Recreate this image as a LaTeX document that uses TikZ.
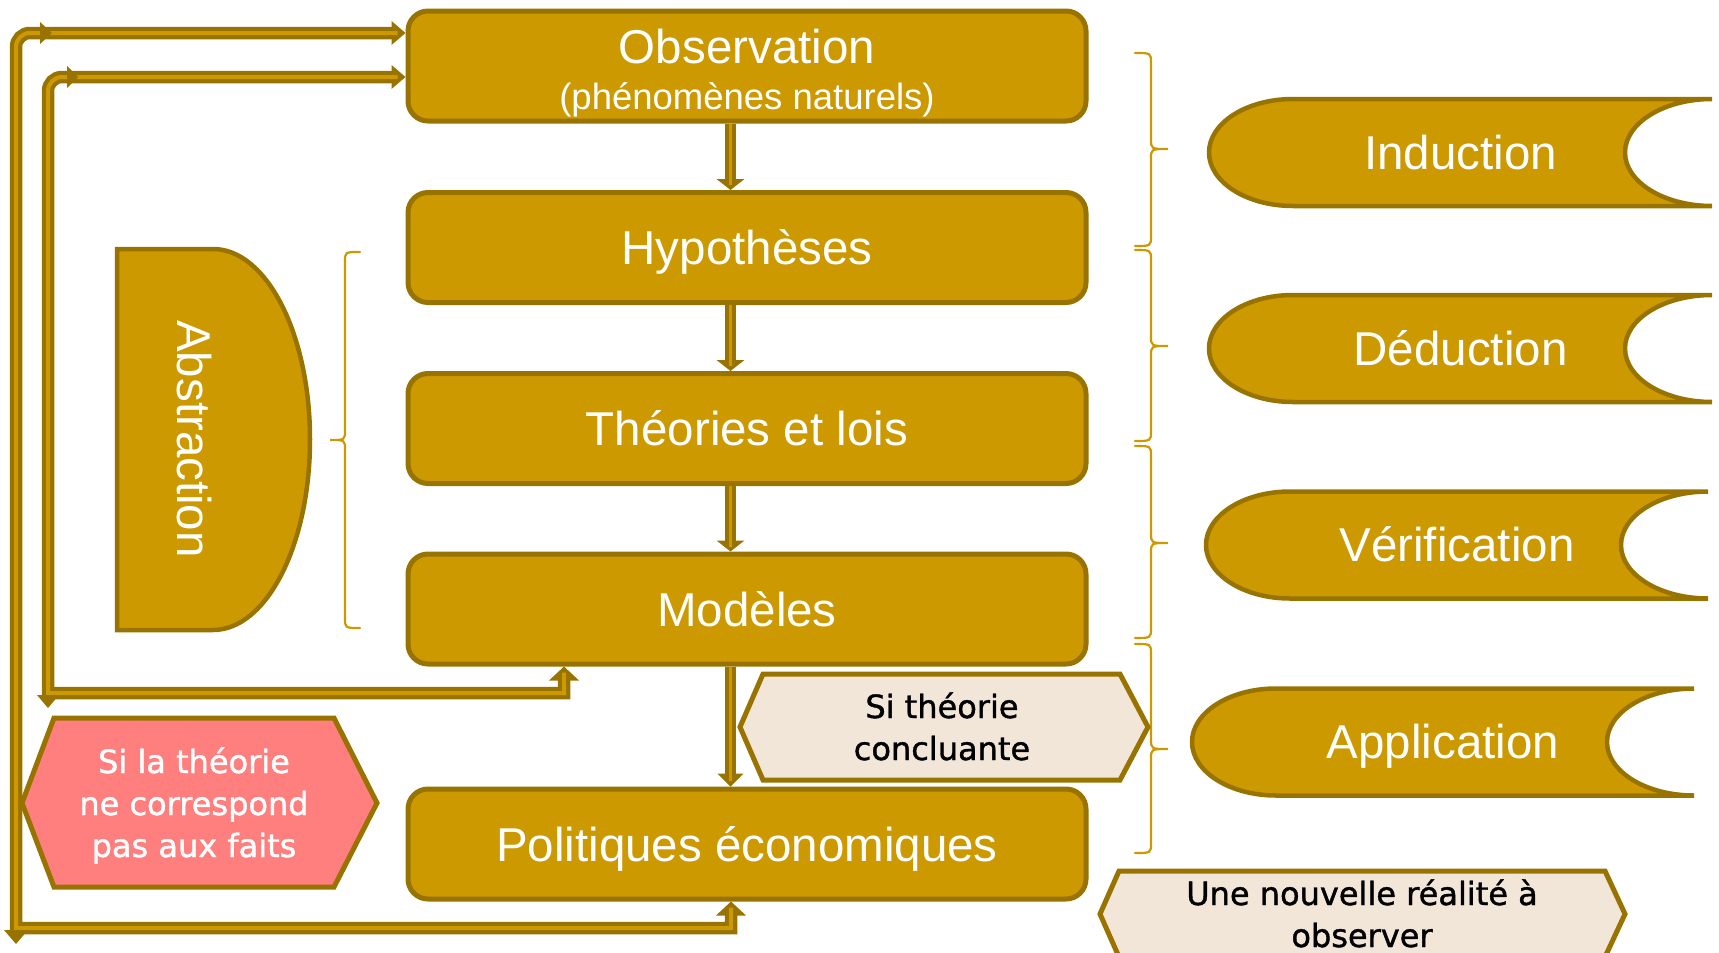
\documentclass[tikz,border=0pt]{standalone}
\usepackage{fontspec}
\setmainfont{Liberation Sans}
\newfontfamily\tahoma[FakeBold=1.2]{DejaVu Sans}
\usetikzlibrary{calc}
\definecolor{gold}{HTML}{CC9900}
\definecolor{dark}{HTML}{997300}
\definecolor{pinkf}{HTML}{FF7F7F}
\definecolor{beige}{HTML}{F2E6D9}
\newcommand{\ahd}[4]{\fill[dark,shift={(#1)},rotate=#2] (0,0) -- (-#3,-#4) -- (-#3,#4) -- cycle;}
\begin{document}
\begin{tikzpicture}[x=1pt,y=-1pt,
 box/.style={draw=dark, fill=gold, line width=5pt, rounded corners=20pt, minimum width=678pt, minimum height=110pt, inner sep=0pt},
 bigtxt/.style={text=white, font=\fontsize{47.5}{57}\selectfont, inner sep=0pt, anchor=base},
 smalltxt/.style={font=\tahoma\fontsize{32}{38}\selectfont, inner sep=0pt, anchor=base},
 dbl/.style={draw=dark, line width=4.25pt, double=gold, double distance=4pt},
 goldshape/.style={draw=dark, fill=gold, line width=4.5pt},
 hexa/.style={draw=dark, line width=5pt},
 bracestyle/.style={draw=gold, line width=2.2pt, line cap=round},
]
\useasboundingbox (0,0) rectangle (1719,953);

% braces
\draw[bracestyle] (360,252) .. controls (345,252) .. (345,262) -- (345,430) .. controls (345,440) .. (330,440) .. controls (345,440) .. (345,450) -- (345,618) .. controls (345,628) .. (360,628);
\foreach \yt/\ym/\yb in {53/149/246, 250/346/441, 446/543/638, 644/749/853}{
  \draw[bracestyle] (1135,\yt) .. controls (1151,\yt) .. (1151,{\yt+10}) -- (1151,{\ym-10}) .. controls (1151,\ym) .. (1168,\ym) .. controls (1151,\ym) .. (1151,{\ym+10}) -- (1151,{\yb-10}) .. controls (1151,\yb) .. (1135,\yb);
}

% right shapes
\foreach \xa/\xb/\yc/\lab/\nm in {1209/1712/152.5/Induction/ind, 1209/1712/348.5/Déduction/ded, 1206/1708/545/Vérification/ver, 1192/1694/742/Application/app}{
  \draw[goldshape] ({\xa+84},{\yc-53.5}) -- (\xb,{\yc-53.5}) arc[start angle=-90,end angle=-270,x radius=87,y radius=53.5] -- ({\xa+84},{\yc+53.5}) arc[start angle=90,end angle=270,x radius=84,y radius=53.5] -- cycle;
  \node[bigtxt] (\nm) at ({(\xa+\xb)/2},{\yc+16.5}) {\lab};
}

% abstraction
\draw[goldshape] (117,249) -- (213,249) arc[start angle=-90,end angle=90,x radius=97,y radius=190.5] -- (117,630) -- cycle;
\node[bigtxt, rotate=-90] (absT) at (177,439) {Abstraction};

% main boxes
\node[box] (obs) at (747,66) {};
\node[box] (hyp) at (747,247.5) {};
\node[box] (the) at (747,428.5) {};
\node[box] (mod) at (747,609) {};
\node[box] (pol) at (747,844) {};
\node[bigtxt] (obsT) at (747,63) {Observation};
\node[bigtxt, font=\fontsize{36.5}{44}\selectfont] (obsT2) at (747,109) {(phénomènes naturels)};
\node[bigtxt] (hypT) at (747,264.5) {Hypothèses};
\node[bigtxt] (theT) at (747,445.5) {Théories et lois};
\node[bigtxt] (modT) at (747,626.5) {Modèles};
\node[bigtxt] (polT) at (747,861.5) {Politiques économiques};

% hexagons
\draw[hexa, fill=beige] (740,727) -- (763,674) -- (1120,674) -- (1148,727) -- (1120,780) -- (763,780) -- cycle;
\node[smalltxt] (c1) at (942,718) {Si théorie};
\node[smalltxt] (c2) at (942,760) {concluante};
\draw[hexa, fill=pinkf] (22,803) -- (54,718) -- (334,718) -- (377,803) -- (334,887) -- (54,887) -- cycle;
\node[smalltxt, text=white] (p1) at (194,773) {Si la théorie};
\node[smalltxt, text=white] (p2) at (194,815) {ne correspond};
\node[smalltxt, text=white] (p3) at (194,857) {pas aux faits};
\draw[hexa, fill=beige] (1100,914) -- (1119,871) -- (1605,871) -- (1625,914) -- (1605,957) -- (1119,957) -- cycle;
\node[smalltxt] (n1) at (1362,905) {Une nouvelle réalité à};
\node[smalltxt] (n2) at (1362,947) {observer};

% down arrows
\coordinate (ax) at (730.5,0);
\ahd{hyp.north -| ax}{-90}{11}{14}
\draw[dbl, double distance=3pt] (obs.south -| ax) -- ($(hyp.north -| ax)+(0,-5)$);
\ahd{the.north -| ax}{-90}{11}{14}
\draw[dbl, double distance=3pt] (hyp.south -| ax) -- ($(the.north -| ax)+(0,-5)$);
\ahd{mod.north -| ax}{-90}{11}{14}
\draw[dbl, double distance=3pt] (the.south -| ax) -- ($(mod.north -| ax)+(0,-5)$);
\ahd{pol.north -| ax}{-90}{13}{13}
\draw[dbl, double distance=3pt] (mod.south -| ax) -- ($(pol.north -| ax)+(0,-6)$);

% feedback loops
\coordinate (oBL) at (16,928);
\coordinate (oTL) at (16,33);
\coordinate (ox) at (731,0);
\ahd{pol.south -| ox}{90}{14}{15}
\ahd{obs.west |- oTL}{0}{14}{12}
\draw[dbl] ($(pol.south -| ox)+(0,6)$) -- (ox |- oBL) -- (oBL) [rounded corners=14pt] -- (oTL) -- ($(obs.west |- oTL)+(-8,0)$);
\ahd{52,33}{0}{12}{11}
\ahd{16,944}{-90}{14}{12}

\coordinate (iBL) at (48,693);
\coordinate (iTL) at (48,77);
\coordinate (ix) at (564,0);
\ahd{mod.south -| ix}{90}{14}{15}
\ahd{obs.west |- iTL}{0}{14}{12}
\draw[dbl] ($(mod.south -| ix)+(0,6)$) -- (ix |- iBL) -- (iBL) [rounded corners=14pt] -- (iTL) -- ($(obs.west |- iTL)+(-8,0)$);
\ahd{78,77}{0}{11}{11}
\ahd{48,708}{-90}{13}{11}
\end{tikzpicture}
\end{document}
